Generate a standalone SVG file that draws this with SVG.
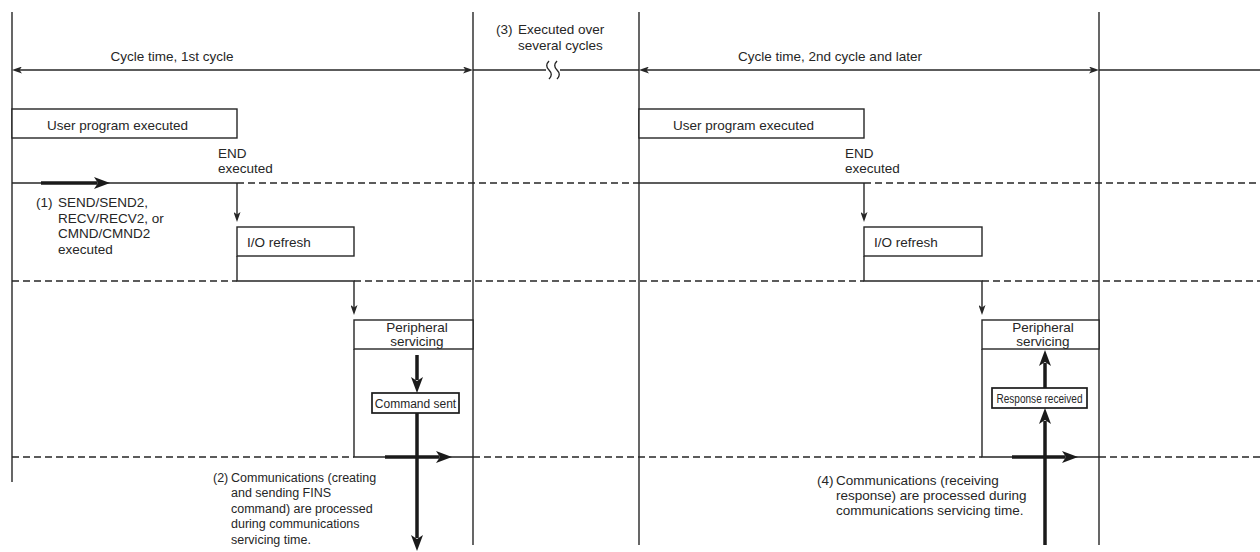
<svg xmlns="http://www.w3.org/2000/svg" width="1260" height="552" viewBox="0 0 1260 552">
<style>
.ln{stroke:#262626;stroke-width:1.4;fill:none}
.dash{stroke:#262626;stroke-width:1.4;fill:none;stroke-dasharray:7 4}
.thick{stroke:#1a1a1a;stroke-width:3.5;fill:none}
.box{fill:#fff;stroke:#262626;stroke-width:1.4}
.sbox{fill:#fff;stroke:#1a1a1a;stroke-width:1.7}
text{font-family:"Liberation Sans",Arial,Helvetica,sans-serif;font-size:13.5px;fill:#262626}
.mid{text-anchor:middle}
.sm{font-size:12.5px}
</style>
<defs>
<marker id="ah" viewBox="0 0 10 7" refX="3" refY="3.5" markerWidth="10" markerHeight="7" markerUnits="userSpaceOnUse" orient="auto-start-reverse"><path d="M0,0 L10,3.5 L0,7 L2.5,3.5 z" fill="#262626"/></marker>
<marker id="tah" viewBox="0 0 16 12" refX="3" refY="6" markerWidth="16" markerHeight="12" markerUnits="userSpaceOnUse" orient="auto"><path d="M0,0 L16,6 L0,12 L4,6 z" fill="#1a1a1a"/></marker>
</defs>

<g id="timeline">
<line class="ln" x1="12" y1="12" x2="12" y2="482"/>
<line class="ln" x1="473" y1="12" x2="473" y2="545"/>
<line class="ln" x1="639" y1="12" x2="639" y2="545"/>
<line class="ln" x1="1099" y1="12" x2="1099" y2="545"/>
<line class="dash" x1="237" y1="183" x2="639" y2="183"/>
<line class="dash" x1="864" y1="183" x2="1260" y2="183"/>
<line class="dash" x1="12" y1="281" x2="237" y2="281"/>
<line class="dash" x1="354" y1="281" x2="864" y2="281"/>
<line class="dash" x1="982" y1="281" x2="1260" y2="281"/>
<line class="dash" x1="12" y1="457" x2="354" y2="457"/>
<line class="dash" x1="473" y1="457" x2="982" y2="457"/>
<line class="dash" x1="1099" y1="457" x2="1260" y2="457"/>
<line class="ln" x1="12" y1="183" x2="237" y2="183"/>
<line class="ln" x1="639" y1="183" x2="864" y2="183"/>
</g>

<g id="cycle1">
<line class="ln" x1="19" y1="70" x2="466" y2="70" marker-start="url(#ah)" marker-end="url(#ah)"/>
<text class="mid" x="172" y="61">Cycle time, 1st cycle</text>
</g>

<g id="several-cycles">
<line class="ln" x1="473" y1="70" x2="546" y2="70"/>
<line class="ln" x1="560" y1="70" x2="639" y2="70"/>
<path class="ln" d="M549,61 q-4.5,4.5 0,9 q4.5,4.5 0,9"/>
<path class="ln" d="M557,61 q-4.5,4.5 0,9 q4.5,4.5 0,9"/>
<text x="496" y="34">(3)</text>
<text x="518" y="34">Executed over</text>
<text x="518" y="50">several cycles</text>
</g>

<g id="cycle2">
<line class="ln" x1="646" y1="70" x2="1092" y2="70" marker-start="url(#ah)" marker-end="url(#ah)"/>
<line class="ln" x1="1099" y1="70" x2="1260" y2="70"/>
<text class="mid" x="830" y="61">Cycle time, 2nd cycle and later</text>
</g>

<g id="user-program-1">
<rect class="box" x="12" y="109" width="225" height="29"/>
<text x="47" y="130">User program executed</text>
<text x="218" y="158">END</text>
<text x="218" y="173">executed</text>
</g>

<g id="user-program-2">
<rect class="box" x="639" y="109" width="225" height="29"/>
<text x="673" y="130">User program executed</text>
<text x="845" y="158">END</text>
<text x="845" y="173">executed</text>
</g>

<g id="io-refresh-1">
<rect class="box" x="237" y="227" width="117" height="29"/>
<text x="247" y="247">I/O refresh</text>
</g>

<g id="io-refresh-2">
<rect class="box" x="864" y="227" width="118" height="29"/>
<text x="874" y="247">I/O refresh</text>
</g>

<g id="peripheral-1">
<path class="ln" d="M354,349 V457 H473"/>
<rect class="box" x="354" y="320" width="119" height="29"/>
<text class="mid" x="417" y="332">Peripheral</text>
<text class="mid" x="417" y="345.5">servicing</text>
</g>

<g id="peripheral-2">
<path class="ln" d="M982,349 V457 H1099"/>
<rect class="box" x="982" y="320" width="117" height="29"/>
<text class="mid" x="1043" y="332">Peripheral</text>
<text class="mid" x="1043" y="345.5">servicing</text>
</g>

<g id="command-sent">
<rect class="sbox" x="372" y="393" width="87" height="20"/>
<text class="mid" x="415.5" y="408" style="font-size:12px">Command sent</text>
</g>

<g id="response-received">
<rect class="sbox" x="992" y="388" width="95" height="20"/>
<text x="996.5" y="403" style="font-size:12px" textLength="86" lengthAdjust="spacingAndGlyphs">Response received</text>
</g>

<g id="connectors">
<line class="ln" x1="237" y1="183" x2="237" y2="215" marker-end="url(#ah)"/>
<path class="ln" d="M237,256 V281 H354 V308" marker-end="url(#ah)"/>
<line class="ln" x1="864" y1="183" x2="864" y2="215" marker-end="url(#ah)"/>
<path class="ln" d="M864,256 V281 H982 V308" marker-end="url(#ah)"/>
<line class="thick" x1="41" y1="183" x2="97" y2="183" marker-end="url(#tah)"/>
<line class="thick" x1="417" y1="355" x2="417" y2="380" marker-end="url(#tah)"/>
<line class="thick" x1="417" y1="413" x2="417" y2="538" marker-end="url(#tah)"/>
<line class="thick" x1="385" y1="457" x2="439" y2="457" marker-end="url(#tah)"/>
<line class="thick" x1="1045" y1="545" x2="1045" y2="421" marker-end="url(#tah)"/>
<line class="thick" x1="1045" y1="388" x2="1045" y2="363" marker-end="url(#tah)"/>
<line class="thick" x1="1012" y1="457" x2="1065" y2="457" marker-end="url(#tah)"/>
</g>

<g id="note-1">
<text x="36" y="207">(1)</text>
<text x="58" y="207">SEND/SEND2,</text>
<text x="58" y="222.5">RECV/RECV2, or</text>
<text x="58" y="238">CMND/CMND2</text>
<text x="58" y="254">executed</text>
</g>

<g id="note-2">
<text class="sm" x="213" y="481.5">(2)</text>
<text class="sm" x="231" y="481.5">Communications (creating</text>
<text class="sm" x="231" y="497">and sending FINS</text>
<text class="sm" x="231" y="512.5">command) are processed</text>
<text class="sm" x="231" y="528">during communications</text>
<text class="sm" x="231" y="543.5">servicing time.</text>
</g>

<g id="note-4">
<text x="817" y="485">(4)</text>
<text x="836" y="485">Communications (receiving</text>
<text x="836" y="500">response) are processed during</text>
<text x="836" y="515">communications servicing time.</text>
</g>
</svg>
